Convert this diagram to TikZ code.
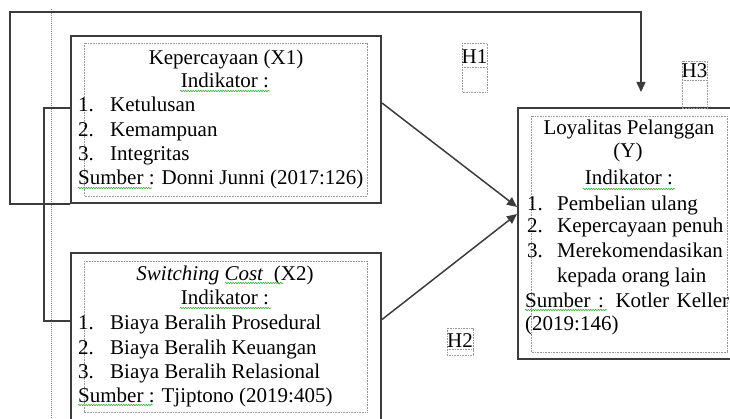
\documentclass[tikz,border=0pt]{standalone}
\usepackage{fontspec}
\setmainfont{Liberation Serif}
\usetikzlibrary{arrows.meta,decorations.pathmorphing,calc}
\definecolor{ln}{HTML}{3C3C3C}
\definecolor{sq}{HTML}{3FAE3F}
\begin{document}
\begin{tikzpicture}[x=1pt,y=-1pt,
  box/.style={draw=ln, line width=2pt, rectangle, inner sep=0pt},
  inbox/.style={draw=gray!80, line width=0.6pt, dash pattern=on 0.8pt off 0.8pt},
  txt/.style={inner sep=0pt, anchor=base west, font=\fontsize{21}{24}\selectfont},
  ctxt/.style={txt, anchor=base},
  conn/.style={draw=ln, line width=1.5pt},
  arr/.style={conn, -{Triangle[length=10pt,width=9pt]}},
  squig/.style={draw=sq, line width=0.6pt, decorate, decoration={snake, amplitude=0.7pt, segment length=2.5pt}},
  margin/.style={draw=gray, line width=0.6pt, dash pattern=on 1pt off 1pt}]
\useasboundingbox (0,0) rectangle (730,419);
\clip (0,0) rectangle (730,419);

% margin guide
\coordinate (mtop) at (51,9);
\coordinate (mbot) at (51,419);
\draw[margin] (mtop) -- (mbot);

% outer boxes
\node[box, minimum width=310pt, minimum height=167pt] (x1) at (226,119.5) {};
\node[box, minimum width=310pt, minimum height=180pt] (x2) at (226,343) {};
\node[box, minimum width=230pt, minimum height=251pt] (y) at (633,233.5) {};

% inner dotted frames
\draw[inbox] (84,43) rectangle (367,196);
\draw[inbox] (84,261) rectangle (367,412);
\draw[inbox] (531,116) rectangle (727,352);

% X1 texts
\node[ctxt] (t1a) at (226,65) {Kepercayaan (X1)};
\node[ctxt] (t1b) at (225,88) {Indikator :};
\node[txt] (n11) at (78,112) {1.};
\node[txt] (i11) at (110,112) {Ketulusan};
\node[txt] (n12) at (78,137) {2.};
\node[txt] (i12) at (110,137) {Kemampuan};
\node[txt] (n13) at (78,161) {3.};
\node[txt] (i13) at (110,161) {Integritas};
\node[txt] (s1) at (78,185) {Sumber : Donni Junni (2017:126)};

% X2 texts
\node[ctxt] (t2a) at (225,280) {\textit{Switching Cost}\ \ (X2)};
\node[ctxt] (t2b) at (225,305) {Indikator :};
\node[txt] (n21) at (78,329) {1.};
\node[txt] (i21) at (110,329) {Biaya Beralih Prosedural};
\node[txt] (n22) at (78,354) {2.};
\node[txt] (i22) at (110,354) {Biaya Beralih Keuangan};
\node[txt] (n23) at (78,378) {3.};
\node[txt] (i23) at (110,378) {Biaya Beralih Relasional};
\node[txt] (s2) at (78,402) {Sumber : Tjiptono (2019:405)};

% Y texts
\node[ctxt] (t3a) at (629,135) {Loyalitas Pelanggan};
\node[ctxt] (t3b) at (628,158) {(Y)};
\node[ctxt] (t3c) at (629,185) {Indikator :};
\node[txt] (n31) at (527,211) {1.};
\node[txt] (i31) at (557,211) {Pembelian ulang};
\node[txt] (n32) at (527,233) {2.};
\node[txt] (i32) at (557,233) {Kepercayaan penuh};
\node[txt] (n33) at (527,258) {3.};
\node[txt] (i33) at (557,258) {Merekomendasikan};
\node[txt] (i34) at (557,283) {kepada orang lain};
\node[txt] (s3) at (525,307) {\makebox[204pt][s]{Sumber : Kotler Keller}};
\node[txt] (s3b) at (525,330) {(2019:146)};

% spell-check squiggles
\draw[squig] (180,91) -- (270,91);
\draw[squig] (78,188) -- (152,188);
\draw[squig] (225,283) -- (283,283);
\draw[squig] (180,308) -- (271,308);
\draw[squig] (78,405) -- (153,405);
\draw[squig] (583,189) -- (675,189);
\draw[squig] (525,310) -- (607,310);

% hypothesis labels
\draw[inbox] (462,43) rectangle (487,92);
\draw[inbox] (462,67) -- (487,67);
\node[ctxt] (h1) at (474.5,64) {H1};
\draw[inbox] (447,328) rectangle (473,355);
\draw[inbox] (447,349) -- (473,349);
\node[ctxt] (h2) at (460,347) {H2};
\draw[inbox] (682,61) rectangle (707,108);
\draw[inbox] (682,80) -- (707,80);
\node[ctxt] (h3) at (694.5,78) {H3};

% connectors
\draw[arr] ([yshift=16.5pt]x1.east) -- ([yshift=26.5pt]y.west);
\draw[arr] ([yshift=23.5pt]x2.east) -- ([yshift=19.5pt]y.west);
\coordinate (loopA) at (10,12);
\coordinate (h3tip) at (641,92);
\draw[arr] (x1.south west) -| (loopA) -| (h3tip);
\draw[conn] ([yshift=11.5pt]x1.west) -- ++(-26,0) |- ([yshift=22pt]x2.west);
\end{tikzpicture}
\end{document}
